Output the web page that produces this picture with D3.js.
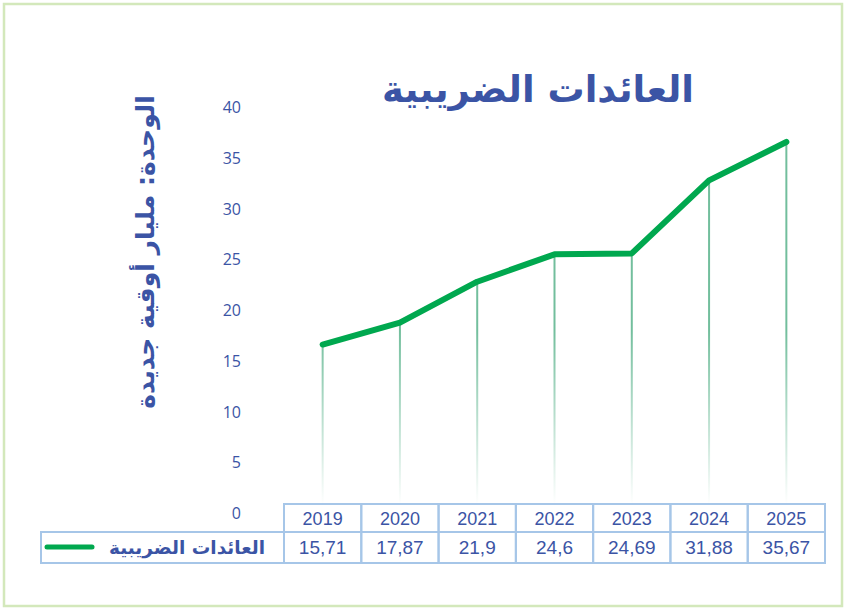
<!DOCTYPE html>
<html lang="ar">
  <head>
    <meta charset="utf-8" />
    <title>العائدات الضريبية</title>
    <script src="https://cdnjs.cloudflare.com/ajax/libs/d3/7.8.5/d3.min.js"></script>
    <style>
      body { margin: 0; background: #fff; }
      svg { display: block; }
      .tick-label { font-family: "Open Sans", sans-serif; font-size: 16px; fill: #3b54a5; }
      .cell-text { font-family: "Liberation Sans", Arial, sans-serif; fill: #3b54a5; }
      .ar { font-family: "DejaVu Sans", sans-serif; font-weight: bold; fill: #3b54a5; }
    </style>
  </head>
  <body>
    <div id="chart"></div>
    <script>
      // Data
      const years = ['2019', '2020', '2021', '2022', '2023', '2024', '2025'];
      const revenue = [15.71, 17.87, 21.9, 24.6, 24.69, 31.88, 35.67];
      const yTicks = [0, 5, 10, 15, 20, 25, 30, 35, 40];
      const seriesName = 'العائدات الضريبية';
      const titleText = 'العائدات الضريبية';
      const unitText = 'الوحدة: مليار أوقية جديدة';

      const width = 846;
      const height = 610;
      const blue = '#3b54a5';
      const green = '#00a84f';
      const tableBorder = '#a6c6e8';

      const svg = d3.select('#chart').append('svg')
        .attr('width', width)
        .attr('height', height);

      // outer frame
      svg.append('rect')
        .attr('x', 4).attr('y', 4)
        .attr('width', 838).attr('height', 602)
        .attr('fill', 'none')
        .attr('stroke', '#d3e8bb')
        .attr('stroke-width', 2.5);

      // scales
      const x = d3.scaleBand().domain(years).range([284, 825]);
      const y = d3.scaleLinear().domain([0, 40]).range([504, 98]);

      // title
      svg.append('text')
        .attr('class', 'ar')
        .attr('x', 538).attr('y', 102)
        .attr('text-anchor', 'middle')
        .attr('direction', 'rtl')
        .attr('font-size', 37)
        .text(titleText);

      // unit label (rotated)
      svg.append('text')
        .attr('class', 'ar')
        .attr('transform', 'translate(154,252) rotate(-90)')
        .attr('text-anchor', 'middle')
        .attr('direction', 'rtl')
        .attr('font-size', 25)
        .text(unitText);

      // y tick labels (sit just under their value line)
      svg.append('g').selectAll('text')
        .data(yTicks)
        .join('text')
        .attr('class', 'tick-label')
        .attr('x', 241)
        .attr('y', d => y(d) + 15)
        .attr('text-anchor', 'end')
        .text(d => d);

      // fading drop lines
      const grad = svg.append('defs').append('linearGradient')
        .attr('id', 'drop')
        .attr('gradientUnits', 'userSpaceOnUse')
        .attr('x1', 0).attr('x2', 0)
        .attr('y1', 330).attr('y2', y(0));
      grad.append('stop').attr('offset', 0).attr('stop-color', '#4fae84').attr('stop-opacity', 0.8);
      grad.append('stop').attr('offset', 1).attr('stop-color', '#4fae84').attr('stop-opacity', 0);

      const cx = d => x(d) + x.bandwidth() / 2;

      svg.append('g').selectAll('rect')
        .data(years)
        .join('rect')
        .attr('x', (d) => cx(d) - 1)
        .attr('width', 2)
        .attr('y', (d, i) => y(revenue[i]))
        .attr('height', (d, i) => y(0) - y(revenue[i]))
        .attr('fill', 'url(#drop)');

      // line
      const line = d3.line()
        .x((d, i) => cx(years[i]))
        .y(d => y(d));

      svg.append('path')
        .datum(revenue)
        .attr('fill', 'none')
        .attr('stroke', green)
        .attr('stroke-width', 6)
        .attr('stroke-linejoin', 'round')
        .attr('stroke-linecap', 'round')
        .attr('d', line);

      // data table
      const rowTop = 504, rowMid = 532, rowBot = 563;
      const table = svg.append('g');

      table.selectAll('rect.head')
        .data(years)
        .join('rect')
        .attr('class', 'head')
        .attr('x', d => x(d)).attr('y', rowTop)
        .attr('width', x.bandwidth()).attr('height', rowMid - rowTop)
        .attr('fill', 'none').attr('stroke', tableBorder).attr('stroke-width', 2);

      table.selectAll('rect.val')
        .data(years)
        .join('rect')
        .attr('class', 'val')
        .attr('x', d => x(d)).attr('y', rowMid)
        .attr('width', x.bandwidth()).attr('height', rowBot - rowMid)
        .attr('fill', 'none').attr('stroke', tableBorder).attr('stroke-width', 2);

      table.append('rect')
        .attr('x', 41).attr('y', rowMid)
        .attr('width', 284 - 41).attr('height', rowBot - rowMid)
        .attr('fill', 'none').attr('stroke', tableBorder).attr('stroke-width', 2);

      table.selectAll('text.year')
        .data(years)
        .join('text')
        .attr('class', 'cell-text year')
        .attr('x', d => cx(d)).attr('y', rowTop + 21)
        .attr('text-anchor', 'middle')
        .attr('font-size', 18)
        .text(d => d);

      table.selectAll('text.num')
        .data(revenue)
        .join('text')
        .attr('class', 'cell-text num')
        .attr('x', (d, i) => cx(years[i])).attr('y', rowMid + 22)
        .attr('text-anchor', 'middle')
        .attr('font-size', 19)
        .text(d => String(d).replace('.', ','));

      // legend inside the table
      table.append('line')
        .attr('x1', 47).attr('x2', 92)
        .attr('y1', 547).attr('y2', 547)
        .attr('stroke', green)
        .attr('stroke-width', 5)
        .attr('stroke-linecap', 'round');

      table.append('text')
        .attr('class', 'ar')
        .attr('x', 265).attr('y', 554)
        .attr('text-anchor', 'start')
        .attr('direction', 'rtl')
        .attr('font-size', 18.5)
        .text(seriesName);
    </script>
  </body>
</html>
